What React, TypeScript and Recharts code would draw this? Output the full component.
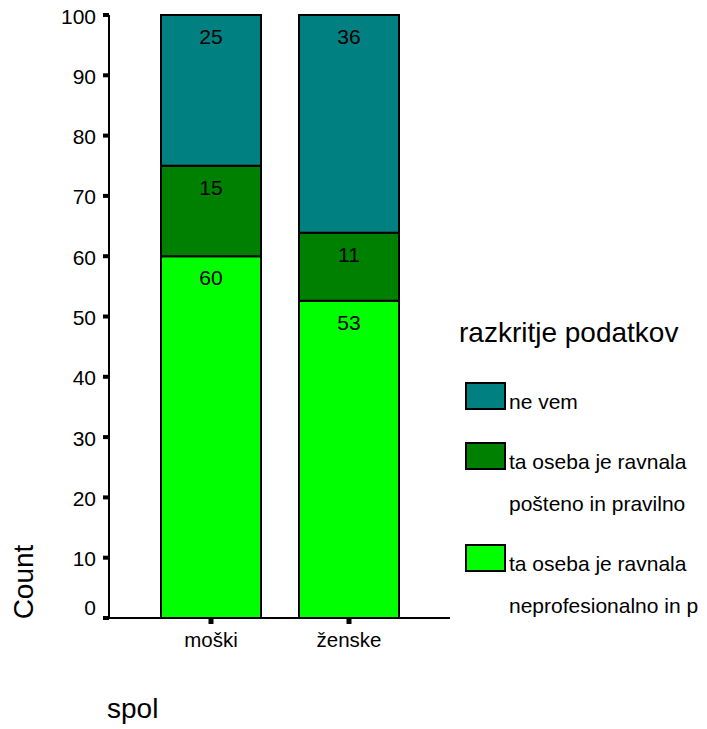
import { BarChart, Bar, XAxis, YAxis, LabelList, Label } from 'recharts';

const categories = ['moški', 'ženske'];
const neprofesionalno = [60, 52.6];
const posteno = [15, 11.3];
const neVem = [25, 36.1];
const yTicks = [0, 10, 20, 30, 40, 50, 60, 70, 80, 90, 100];

const legendTitle = 'razkritje podatkov';
const series = [
  { key: 'neVem', color: '#008080', lines: ['ne vem'] },
  { key: 'posteno', color: '#008000', lines: ['ta oseba je ravnala', 'pošteno in pravilno'] },
  { key: 'neprofesionalno', color: '#00ff00', lines: ['ta oseba je ravnala', 'neprofesionalno in p'] },
];

const data = categories.map((spol, i) => ({
  spol,
  neprofesionalno: neprofesionalno[i],
  posteno: posteno[i],
  neVem: neVem[i],
}));

const FONT = '"Liberation Sans", Arial, sans-serif';

function YTick({ x, y, payload }: any) {
  // SPSS sits the zero label just above the baseline instead of centring it
  const dy = payload.value === 0 ? -3 : 8.5;
  return (
    <g>
      <rect x={x + 7} y={y - 2} width={6} height={4} fill="#000" />
      <text x={x} y={y + dy} textAnchor="end" fontSize={21} fontFamily={FONT} fill="#000">
        {payload.value}
      </text>
    </g>
  );
}

function XTick({ x, y, payload }: any) {
  return (
    <g>
      <rect x={x - 2.5} y={y} width={5} height={6} fill="#000" />
      <text x={x} y={y + 29} textAnchor="middle" fontSize={20.5} fontFamily={FONT} fill="#000">
        {payload.value}
      </text>
    </g>
  );
}

function SegmentLabel({ x, y, width, value }: any) {
  return (
    <text x={x + width / 2} y={y + 29} textAnchor="middle" fontSize={21} fontFamily={FONT} fill="#000">
      {Math.round(value)}
    </text>
  );
}

function Legend() {
  let top = 383;
  const items = series.map((s) => {
    const y = top;
    top += 60 + 42 * (s.lines.length - 1);
    return (
      <g key={s.key}>
        <rect x={466} y={y} width={39} height={26} fill={s.color} stroke="#000" strokeWidth={2} />
        {s.lines.map((line, j) => (
          <text key={j} x={509} y={y + 26 + j * 42} fontSize={21} fontFamily={FONT} fill="#000">
            {line}
          </text>
        ))}
      </g>
    );
  });
  return (
    <svg width={707} height={729} style={{ position: 'absolute', left: 0, top: 0, pointerEvents: 'none' }}>
      <text x={459} y={342} fontSize={28} fontFamily={FONT} fill="#000">
        {legendTitle}
      </text>
      {items}
    </svg>
  );
}

export default function App() {
  const stack = [...series].reverse();
  return (
    <div style={{ position: 'absolute', left: 0, top: 0, width: 707, height: 729, background: '#fff' }}>
      <BarChart width={707} height={729} data={data} margin={{ top: 15, right: 257, bottom: 0, left: 0 }} barSize={100}>
        <XAxis
          dataKey="spol"
          height={111}
          padding={{ left: 33, right: 32 }}
          axisLine={{ stroke: '#000', strokeWidth: 2 }}
          tickLine={false}
          tickSize={0}
          tickMargin={0}
          tick={<XTick />}
        >
          <Label
            content={({ viewBox }: any) => (
              <text x={viewBox.x - 2} y={viewBox.y + 100} fontSize={28} fontFamily={FONT} fill="#000">
                spol
              </text>
            )}
          />
        </XAxis>
        <XAxis
          xAxisId="top"
          dataKey="spol"
          orientation="top"
          height={0}
          tick={false}
          tickLine={false}
          axisLine={{ stroke: '#000', strokeWidth: 2 }}
        />
        <YAxis
          domain={[0, 100]}
          ticks={yTicks}
          width={109}
          interval={0}
          axisLine={{ stroke: '#000', strokeWidth: 2 }}
          tickLine={false}
          tickSize={6}
          tickMargin={7}
          tick={<YTick />}
        >
          <Label
            content={({ viewBox }: any) => {
              const cx = 23;
              const cy = viewBox.y + viewBox.height - 36;
              return (
                <text
                  x={cx}
                  y={cy}
                  transform={`rotate(-90 ${cx} ${cy})`}
                  textAnchor="middle"
                  dominantBaseline="central"
                  fontSize={28}
                  fontFamily={FONT}
                  fill="#000"
                >
                  Count
                </text>
              );
            }}
          />
        </YAxis>
        <YAxis
          yAxisId="right"
          orientation="right"
          domain={[0, 100]}
          width={0}
          tick={false}
          tickLine={false}
          axisLine={{ stroke: '#000', strokeWidth: 2 }}
        />
        {stack.map((s) => (
          <Bar key={s.key} dataKey={s.key} stackId="a" fill={s.color} stroke="#000" strokeWidth={2} isAnimationActive={false}>
            <LabelList dataKey={s.key} content={<SegmentLabel />} />
          </Bar>
        ))}
      </BarChart>
      <Legend />
    </div>
  );
}
